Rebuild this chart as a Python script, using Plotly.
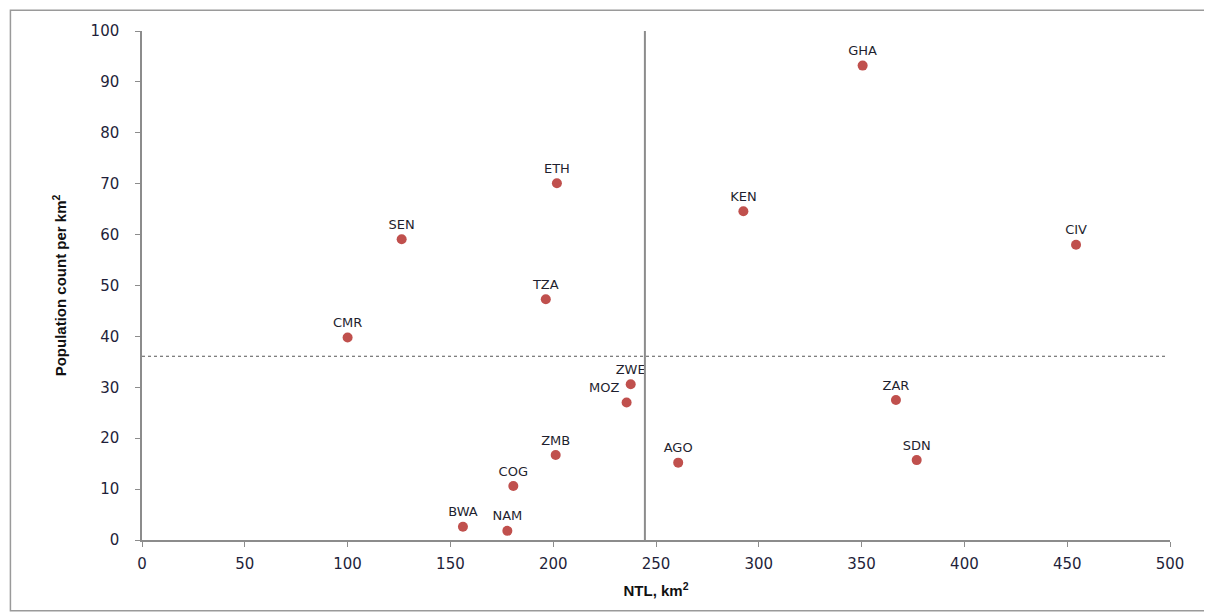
import plotly.graph_objects as go

countries = ["GHA", "KEN", "CIV", "ETH", "SEN", "TZA", "CMR", "ZWE", "MOZ",
             "ZAR", "SDN", "AGO", "ZMB", "COG", "BWA", "NAM"]
ntl = [350.5, 292.5, 454.3, 201.8, 126.3, 196.4, 100.0, 237.7, 235.7,
       366.7, 376.8, 260.8, 201.2, 180.6, 156.1, 177.7]
pop = [93.2, 64.6, 58.0, 70.1, 59.1, 47.3, 39.8, 30.6, 27.0,
       27.5, 15.7, 15.2, 16.7, 10.6, 2.6, 1.8]
label_pos = ["top center"] * len(countries)
label_pos[countries.index("MOZ")] = "top left"

ntl_mean = 244.6
pop_mean = 36.1

x_ticks = list(range(0, 501, 50))
y_ticks = list(range(0, 101, 10))

fig = go.Figure()
fig.add_trace(go.Scatter(
    x=ntl, y=pop, mode="markers+text", text=countries,
    textposition=label_pos,
    textfont=dict(family="DejaVu Sans, Verdana", size=13, color="#1f1f2f"),
    marker=dict(color="#C0504D", size=10, line=dict(width=0)),
    cliponaxis=False, showlegend=False,
))

# mean lines
fig.add_trace(go.Scatter(
    x=[ntl_mean, ntl_mean], y=[0, 100], mode="lines",
    line=dict(color="#8c8c8c", width=2), showlegend=False, hoverinfo="skip",
))
fig.add_trace(go.Scatter(
    x=[0, 498], y=[pop_mean, pop_mean], mode="lines",
    line=dict(color="#555555", width=1, dash="dot"), showlegend=False, hoverinfo="skip",
))

fig.add_shape(type="rect", xref="paper", yref="paper",
              x0=-0.128, x1=1.034, y0=-0.139, y1=1.041,
              line=dict(color="#9a9a9a", width=1.5), layer="below")

fig.update_layout(
    width=1212, height=614,
    margin=dict(l=134, r=50, t=23, b=82),
    paper_bgcolor="white", plot_bgcolor="white",
    font=dict(family="DejaVu Sans, Verdana", color="#1f1f3a"),
    xaxis=dict(
        range=[0, 500], tickvals=x_ticks, ticktext=[str(v) for v in x_ticks],
        showgrid=False, zeroline=False, showline=True, linecolor="#8c8c8c", linewidth=1.5,
        ticks="outside", ticklen=5, tickcolor="#8c8c8c", ticklabelstandoff=4,
        tickfont=dict(family="DejaVu Sans, Verdana", size=15, color="#1f1f3a"),
        title=dict(text="<b>NTL, km<sup>2</sup></b>", standoff=14,
                   font=dict(family="Liberation Sans, Arial", size=15, color="#111111")),
    ),
    yaxis=dict(
        range=[0, 100], tickvals=y_ticks, ticktext=[str(v) for v in y_ticks],
        showgrid=False, zeroline=False, showline=True, linecolor="#8c8c8c", linewidth=1.5,
        ticks="outside", ticklen=5, tickcolor="#8c8c8c", ticklabelstandoff=13,
        tickfont=dict(family="DejaVu Sans, Verdana", size=15, color="#1f1f3a"),
        title=dict(text="<b>Population count per km<sup>2</sup></b>", standoff=20,
                   font=dict(family="Liberation Sans Narrow, Liberation Sans, Arial", size=15, color="#111111")),
    ),
)

fig.write_html("out.html")
